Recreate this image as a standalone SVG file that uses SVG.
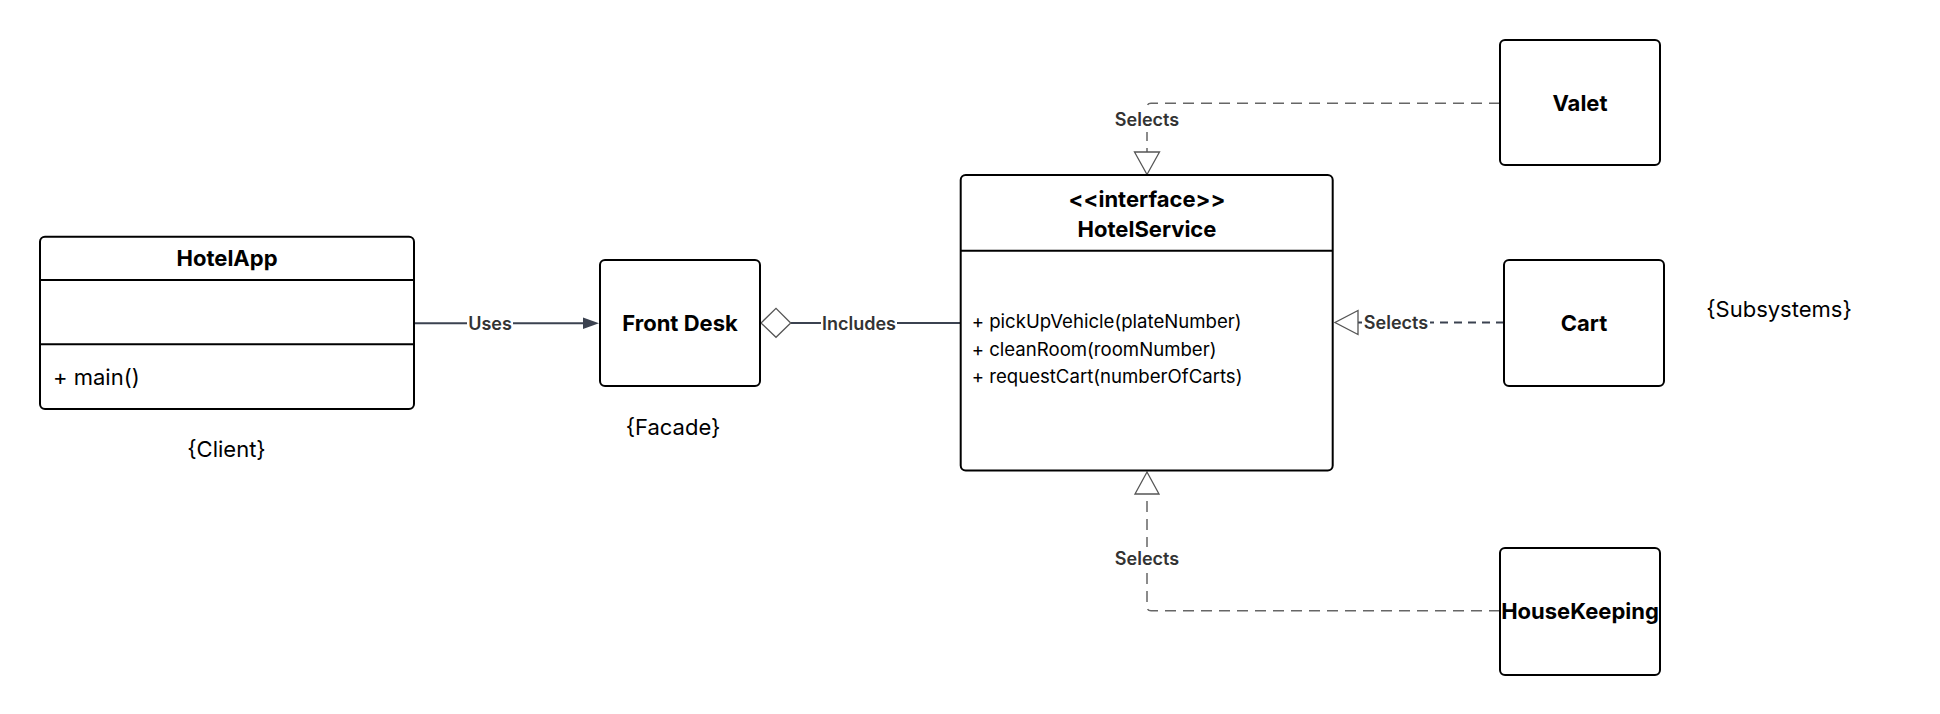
<svg xmlns="http://www.w3.org/2000/svg" width="1940" height="714" viewBox="0 0 1940 714">
<style>
.box{fill:#fff;stroke:#000;stroke-width:2}
.div{stroke:#000;stroke-width:2}
.name{font-family:Inter,"Liberation Sans",sans-serif;font-size:22px;font-weight:700;fill:#000;text-anchor:middle}
.meth{font-family:Inter,"Liberation Sans",sans-serif;font-size:18.6px;fill:#000}
.main{font-family:Inter,"Liberation Sans",sans-serif;font-size:22px;fill:#000}
.note{font-family:Inter,"Liberation Sans",sans-serif;font-size:22px;fill:#000;text-anchor:middle}
.lbl{font-family:Inter,"Liberation Sans",sans-serif;font-size:18px;font-weight:600;fill:#333;text-anchor:middle}
.solid{fill:none;stroke:#3b4250;stroke-width:2}
.dash{fill:none;stroke:#666;stroke-width:1.5;stroke-dasharray:11 7}
.dash2{fill:none;stroke:#3b4250;stroke-width:2;stroke-dasharray:8 6}
.tri{fill:#fff;stroke:#555;stroke-width:1.3}
.bg{fill:#fff}
</style>
<rect width="1940" height="714" fill="#fff"/>
<g id="connectors">
  <g id="uses">
    <path class="solid" d="M414,323.3 H586"/>
    <polygon points="583,317.5 599,323.3 583,329" fill="#3b4250"/>
    <rect class="bg" x="467" y="311" width="46" height="24"/>
    <text class="lbl" x="490" y="329.5">Uses</text>
  </g>
  <g id="includes">
    <path class="solid" d="M790.7,323 H960"/>
    <polygon class="tri" points="761,323 776,308.3 790.7,323 776,337.3"/>
    <rect class="bg" x="821" y="311" width="76" height="24"/>
    <text class="lbl" x="859" y="329.5">Includes</text>
  </g>
  <g id="valet-sel">
    <path class="dash" d="M1500,103.3 H1151 Q1147,103.3 1147,107.3 V152"/>
    <polygon class="tri" points="1134.5,152 1159.5,152 1147,174.5"/>
    <rect class="bg" x="1113" y="108" width="68" height="24"/>
    <text class="lbl" x="1147" y="126">Selects</text>
  </g>
  <g id="cart-sel">
    <path class="dash2" d="M1504,322.5 H1358"/>
    <polygon class="tri" points="1358,310.5 1358,334.5 1335,322.5"/>
    <rect class="bg" x="1362" y="310" width="68" height="24"/>
    <text class="lbl" x="1396" y="329">Selects</text>
  </g>
  <g id="hk-sel">
    <path class="dash" d="M1500,610.7 H1151 Q1147,610.7 1147,606.7 V494"/>
    <polygon class="tri" points="1135,494 1159,494 1147,472"/>
    <rect class="bg" x="1113" y="547" width="68" height="24"/>
    <text class="lbl" x="1147" y="565">Selects</text>
  </g>
</g>
<g id="HotelApp">
  <rect class="box" x="40" y="236.7" width="374" height="172.3" rx="5"/>
  <line class="div" x1="40" y1="280" x2="414" y2="280"/>
  <line class="div" x1="40" y1="344.3" x2="414" y2="344.3"/>
  <text class="name" x="227" y="266">HotelApp</text>
  <text class="main" x="53" y="385">+ main()</text>
</g>
<g id="client-note"><text class="note" x="226.5" y="457">{Client}</text></g>
<g id="FrontDesk">
  <rect class="box" x="600" y="260" width="160" height="126" rx="5"/>
  <text class="name" x="680" y="331">Front Desk</text>
</g>
<g id="facade-note"><text class="note" x="673" y="435">{Facade}</text></g>
<g id="HotelService">
  <rect class="box" x="960.7" y="175" width="372" height="295.5" rx="5"/>
  <line class="div" x1="960.7" y1="250.7" x2="1332.7" y2="250.7"/>
  <text class="name" x="1147" y="206.7">&lt;&lt;interface&gt;&gt;</text>
  <text class="name" x="1147" y="236.7">HotelService</text>
  <text class="meth" x="971.7" y="328.3">+ pickUpVehicle(plateNumber)</text>
  <text class="meth" x="971.7" y="355.5">+ cleanRoom(roomNumber)</text>
  <text class="meth" x="971.7" y="382.7">+ requestCart(numberOfCarts)</text>
</g>
<g id="Valet">
  <rect class="box" x="1500" y="40" width="160" height="125" rx="5"/>
  <text class="name" x="1580" y="111">Valet</text>
</g>
<g id="Cart">
  <rect class="box" x="1504" y="260" width="160" height="126" rx="5"/>
  <text class="name" x="1584" y="331">Cart</text>
</g>
<g id="subsystems-note"><text class="note" x="1779" y="317">{Subsystems}</text></g>
<g id="HouseKeeping">
  <rect class="box" x="1500" y="548" width="160" height="127" rx="5"/>
  <text class="name" x="1580" y="619">HouseKeeping</text>
</g>
</svg>
